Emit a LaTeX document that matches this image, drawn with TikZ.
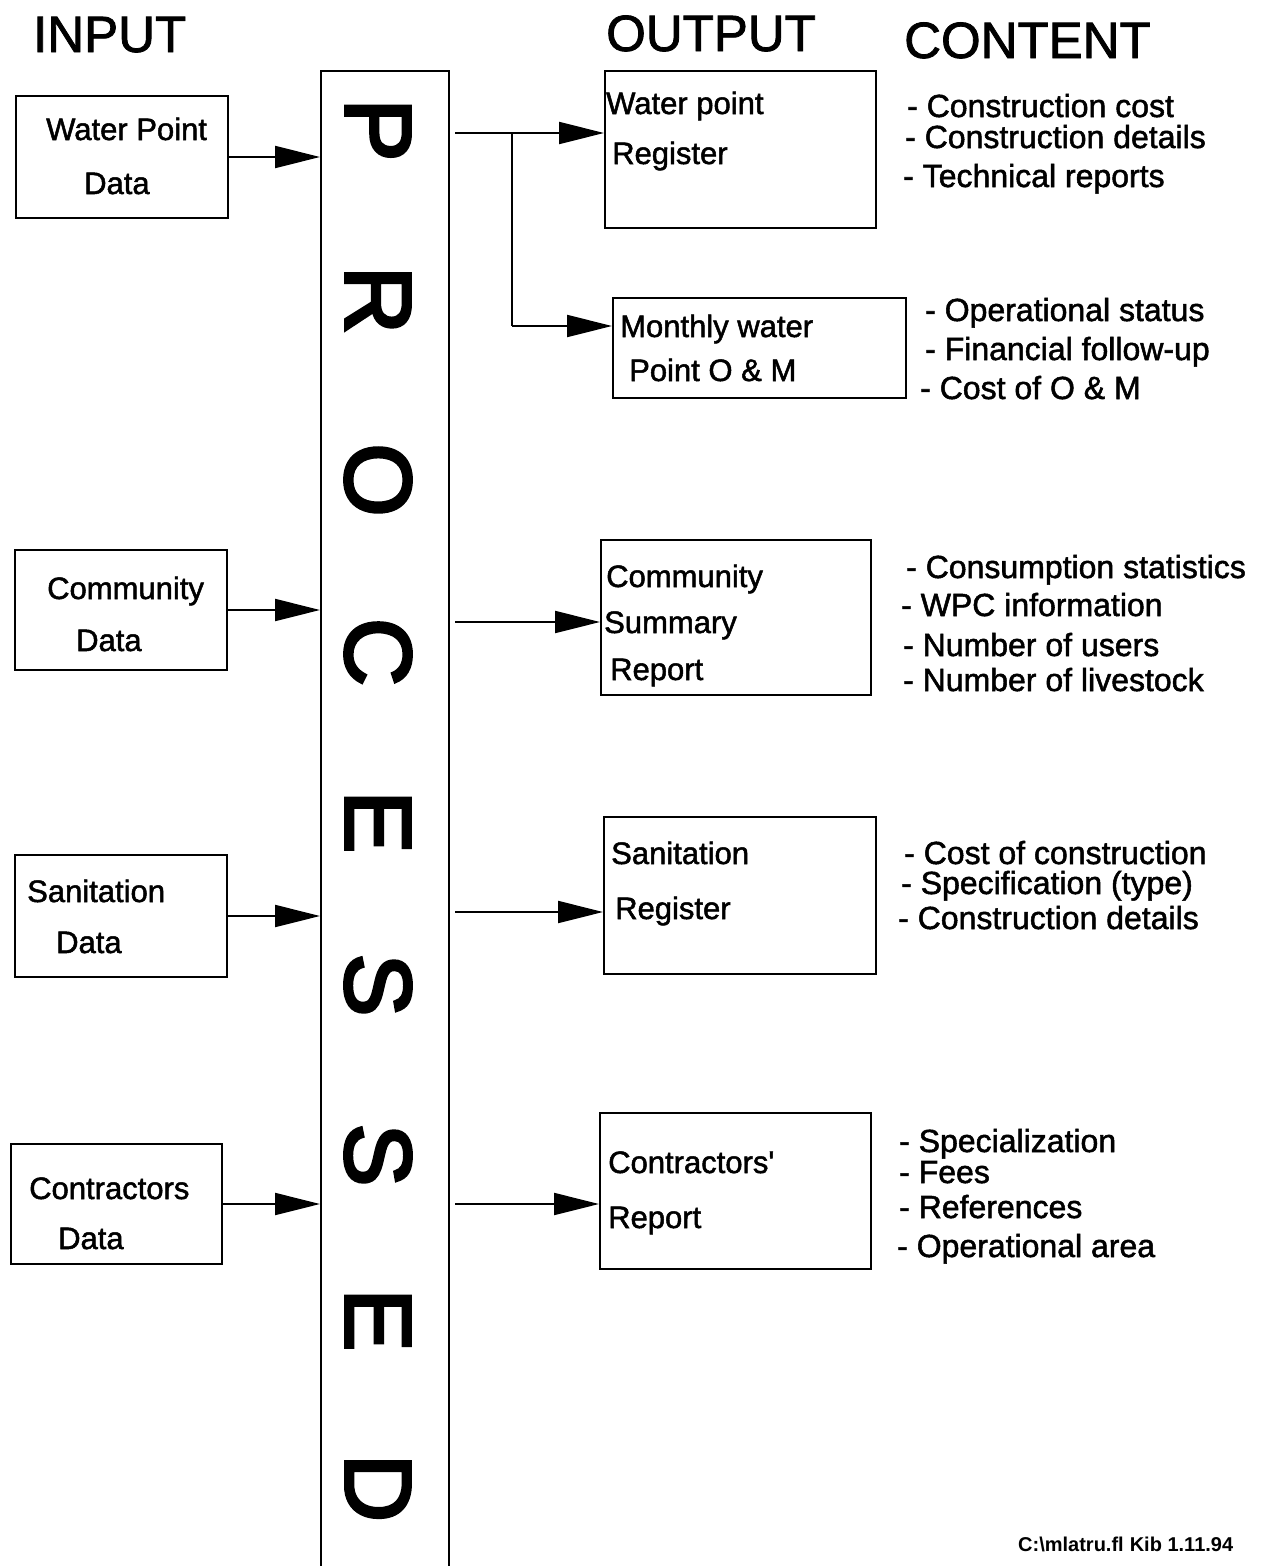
\documentclass[tikz,border=0pt]{standalone}
\usepackage{fontspec}
\setmainfont{Liberation Sans}
\newfontfamily\heavy{Liberation Sans}[FakeBold=1.6]
\newfontfamily\heavier{Liberation Sans}[FakeBold=3.5]
\usetikzlibrary{arrows.meta,calc}
\begin{document}
\begin{tikzpicture}[x=1pt,y=-1pt,
  box/.style={draw,line width=2pt,inner sep=0pt,anchor=north west},
  txt/.style={font=\heavy\fontsize{31}{37}\selectfont,inner sep=0pt,anchor=base west},
  ctx/.style={font=\heavy\fontsize{32}{38}\selectfont,inner sep=0pt,anchor=base west},
  hdr/.style={font=\heavy\fontsize{51}{60}\selectfont,inner sep=0pt,anchor=base west},
  letter/.style={font=\heavier\fontsize{94}{94}\selectfont,inner sep=0pt,rotate=-90,anchor=center},
  arr/.style={line width=2pt,-{Triangle[length=45pt,width=22pt]}},
  conn/.style={line width=2pt}]
\useasboundingbox (0,0) rectangle (1262,1566);
\clip (0,0) rectangle (1262,1566);
% headers
\node[hdr] (hin) at (33,52) {INPUT};
\node[hdr] (hout) at (606,51) {OUTPUT};
\node[hdr] (hcon) at (904,58) {CONTENT};
% process column
\node[box,line width=2.4pt,minimum width=128pt,minimum height=1530pt] (proc) at (320,70) {};
\node[letter] (l1) at (378,130) {P};
\node[letter] (l2) at (378,300) {R};
\node[letter] (l3) at (378,480) {O};
\node[letter] (l4) at (378,652) {C};
\node[letter] (l5) at (378,822) {E};
\node[letter] (l6) at (378,985) {S};
\node[letter] (l7) at (378,1155) {S};
\node[letter] (l8) at (378,1320) {E};
\node[letter] (l9) at (378,1488) {D};
\coordinate (pe) at ([xshift=5pt]proc.east);
% input boxes
\node[box,minimum width=212pt,minimum height=122pt] (in1) at (15,95) {};
\node[txt] (in1a) at (46,140) {Water Point};
\node[txt] (in1b) at (84,194) {Data};
\node[box,minimum width=212pt,minimum height=120pt] (in2) at (14,549) {};
\node[txt] (in2a) at (47,599) {Community};
\node[txt] (in2b) at (76,651) {Data};
\node[box,minimum width=212pt,minimum height=122pt] (in3) at (14,854) {};
\node[txt] (in3a) at (27,902) {Sanitation};
\node[txt] (in3b) at (56,953) {Data};
\node[box,minimum width=211pt,minimum height=120pt] (in4) at (10,1143) {};
\node[txt] (in4a) at (29,1199) {Contractors};
\node[txt] (in4b) at (58,1249) {Data};
\draw[arr] (in1.east) -- (in1.east -| proc.west);
\draw[arr] (in2.east) -- (in2.east -| proc.west);
\draw[arr] (in3.east) -- (in3.east -| proc.west);
\draw[arr] (in4.east) -- (in4.east -| proc.west);
% output boxes
\node[box,minimum width=271pt,minimum height=157pt] (out1) at (604,70) {};
\node[txt] (out1a) at (606,114) {Water point};
\node[txt] (out1b) at (612,164) {Register};
\node[box,minimum width=293pt,minimum height=100pt] (out2) at (612,297) {};
\node[txt] (out2a) at (620,337) {Monthly water};
\node[txt] (out2b) at (629,381) {Point O \& M};
\node[box,minimum width=270pt,minimum height=155pt] (out3) at (600,539) {};
\node[txt] (out3a) at (606,587) {Community};
\node[txt] (out3b) at (604,633) {Summary};
\node[txt] (out3c) at (610,680) {Report};
\node[box,minimum width=272pt,minimum height=157pt] (out4) at (603,816) {};
\node[txt] (out4a) at (611,864) {Sanitation};
\node[txt] (out4b) at (615,919) {Register};
\node[box,minimum width=271pt,minimum height=156pt] (out5) at (599,1112) {};
\node[txt] (out5a) at (608,1173) {Contractors\textquotesingle};
\node[txt] (out5b) at (608,1228) {Report};
% output connectors
\coordinate (a1) at ($(out1.north west)+(0,63)$);
\coordinate (a2) at ($(out2.north west)+(0,29)$);
\coordinate (a3) at ($(out3.north west)+(0,83)$);
\coordinate (a4) at ($(out4.north west)+(0,96)$);
\coordinate (a5) at ($(out5.north west)+(0,92)$);
\coordinate (br) at (512,133);
\draw[arr] (pe |- a1) -- (a1);
\draw[conn] (br) -- (br |- a2);
\draw[arr] (br |- a2) -- (a2);
\draw[arr] (pe |- a3) -- (a3);
\draw[arr] (pe |- a4) -- (a4);
\draw[arr] (pe |- a5) -- (a5);
% content lists
\node[ctx] (c11) at (907,117) {- Construction cost};
\node[ctx] (c12) at (905,148) {- Construction details};
\node[ctx] (c13) at (903,187) {- Technical reports};
\node[ctx] (c21) at (925,321) {- Operational status};
\node[ctx] (c22) at (925,360) {- Financial follow-up};
\node[ctx] (c23) at (920,399) {- Cost of O \& M};
\node[ctx] (c31) at (906,578) {- Consumption statistics};
\node[ctx] (c32) at (901,616) {- WPC information};
\node[ctx] (c33) at (903,656) {- Number of users};
\node[ctx] (c34) at (903,691) {- Number of livestock};
\node[ctx] (c41) at (904,864) {- Cost of construction};
\node[ctx] (c42) at (901,894) {- Specification (type)};
\node[ctx] (c43) at (898,929) {- Construction details};
\node[ctx] (c51) at (899,1152) {- Specialization};
\node[ctx] (c52) at (899,1183) {- Fees};
\node[ctx] (c53) at (899,1218) {- References};
\node[ctx] (c54) at (897,1257) {- Operational area};
% footer
\node[inner sep=0pt,anchor=base west,font=\fontsize{20}{24}\selectfont\bfseries] (foot) at (1018,1551) {C:\textbackslash mlatru.fl\hspace{6pt}Kib 1.11.94};
\end{tikzpicture}
\end{document}
